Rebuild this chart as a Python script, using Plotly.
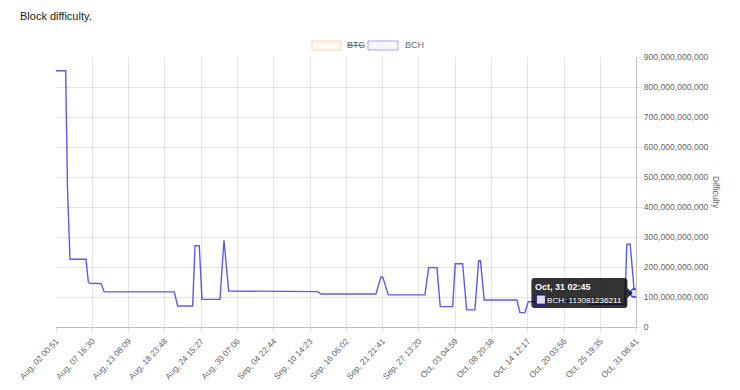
import plotly.graph_objects as go

# ---- data ----
times = [
    "2017-08-02 00:51", "2017-08-03 13:03", "2017-08-03 19:51", "2017-08-04 05:09",
    "2017-08-06 16:57", "2017-08-07 01:33", "2017-08-07 07:51", "2017-08-09 01:03",
    "2017-08-09 13:21", "2017-08-20 10:57", "2017-08-20 23:39", "2017-08-23 07:45",
    "2017-08-23 16:15", "2017-08-24 08:21", "2017-08-24 18:27", "2017-08-27 13:45",
    "2017-08-28 04:39", "2017-08-28 22:15", "2017-09-11 18:51", "2017-09-12 07:09",
    "2017-09-20 20:39", "2017-09-21 15:21", "2017-09-21 22:51", "2017-09-22 18:39",
    "2017-09-28 11:51", "2017-09-29 01:39", "2017-09-30 08:39", "2017-09-30 20:57",
    "2017-10-02 19:21", "2017-10-03 05:03", "2017-10-04 08:39", "2017-10-04 23:39",
    "2017-10-06 06:39", "2017-10-06 20:27", "2017-10-07 03:15", "2017-10-07 17:27",
    "2017-10-12 19:39", "2017-10-13 06:51", "2017-10-14 01:33", "2017-10-14 13:51",
    "2017-10-23 20:51", "2017-10-24 04:27", "2017-10-29 14:51", "2017-10-29 22:27",
    "2017-10-30 10:51", "2017-10-30 23:51", "2017-10-31 02:45", "2017-10-31 08:41",
]
bch_difficulty = [
    854e9, 854e9, 460e9, 226e9,
    226e9, 151e9, 146e9, 145e9,
    117e9, 117e9, 70e9, 70e9,
    271e9, 271e9, 92e9, 92e9,
    289e9, 120e9, 118e9, 110e9,
    110e9, 167e9, 165e9, 107e9,
    107e9, 198e9, 198e9, 68e9,
    68e9, 211e9, 211e9, 57e9,
    57e9, 221e9, 221e9, 90e9,
    90e9, 48e9, 48e9, 84e9,
    84e9, 76e9, 76e9, 276e9,
    276e9, 116e9, 113081236211, 113.08e9,
]

tick_times = [
    "2017-08-02 00:51", "2017-08-07 16:30", "2017-08-13 08:09", "2017-08-18 23:48",
    "2017-08-24 15:27", "2017-08-30 07:06", "2017-09-04 22:44", "2017-09-10 14:23",
    "2017-09-16 06:02", "2017-09-21 21:41", "2017-09-27 13:20", "2017-10-03 04:59",
    "2017-10-08 20:38", "2017-10-14 12:17", "2017-10-20 03:56", "2017-10-25 19:35",
    "2017-10-31 08:41",
]
tick_labels = [
    "Aug, 02 00:51", "Aug, 07 16:30", "Aug, 13 08:09", "Aug, 18 23:48",
    "Aug, 24 15:27", "Aug, 30 07:06", "Sep, 04 22:44", "Sep, 10 14:23",
    "Sep, 16 06:02", "Sep, 21 21:41", "Sep, 27 13:20", "Oct, 03 04:59",
    "Oct, 08 20:38", "Oct, 14 12:17", "Oct, 20 03:56", "Oct, 25 19:35",
    "Oct, 31 08:41",
]

hover_time = "2017-10-31 02:45"
hover_label = "Oct, 31 02:45"
hover_value = 113081236211

FONT = "Liberation Sans, Arial, Helvetica, sans-serif"
GRID = "rgba(0,0,0,0.1)"
LINE_BLUE = "rgba(0,0,255,0.65)"

fig = go.Figure()
fig.add_trace(go.Scatter(
    x=times, y=bch_difficulty, mode="lines", name="BCH",
    line=dict(color=LINE_BLUE, width=1.4), hoverinfo="skip", showlegend=False,
))
fig.add_trace(go.Scatter(
    x=[hover_time], y=[hover_value], mode="markers", showlegend=False, hoverinfo="skip",
    marker=dict(size=8, color="rgba(225,225,255,1)", line=dict(color="rgba(0,0,255,0.8)", width=1.5)),
))

shapes = []
annotations = []

# tooltip box (pixel offsets relative to hovered point)
path = ("M -100,15 L -10,15 Q -7,15 -7,12 L -7,5 L -2,0 L -7,-5 L -7,-12 "
        "Q -7,-15 -10,-15 L -100,-15 Q -103,-15 -103,-12 L -103,12 Q -103,15 -100,15 Z")
shapes.append(dict(type="path", xref="x", yref="y", xsizemode="pixel", ysizemode="pixel",
                   xanchor=hover_time, yanchor=hover_value, path=path,
                   fillcolor="rgba(0,0,0,0.8)", line=dict(width=0), layer="above"))
shapes.append(dict(type="rect", xref="x", yref="y", xsizemode="pixel", ysizemode="pixel",
                   xanchor=hover_time, yanchor=hover_value, x0=-98, x1=-89, y0=-2, y1=-11,
                   fillcolor="rgb(222,222,232)", line=dict(color="rgba(0,0,255,0.8)", width=1),
                   layer="above"))
annotations.append(dict(x=hover_time, y=hover_value, xref="x", yref="y", showarrow=False,
                        text="<b>" + hover_label + "</b>", xanchor="left", yanchor="middle",
                        xshift=-100, yshift=6, borderpad=0,
                        font=dict(family=FONT, size=9, color="white")))
annotations.append(dict(x=hover_time, y=hover_value, xref="x", yref="y", showarrow=False,
                        text="BCH: " + str(hover_value), xanchor="left", yanchor="middle",
                        xshift=-88, yshift=-7, borderpad=0,
                        font=dict(family=FONT, size=8.1, color="white")))

# legend (manual, Chart.js style)
shapes.append(dict(type="rect", xref="paper", yref="paper", x0=0.4414, x1=0.4914,
                   y0=1.0259, y1=1.0593, fillcolor="rgba(255,159,64,0.05)",
                   line=dict(color="rgba(255,159,64,0.45)", width=1)))
shapes.append(dict(type="rect", xref="paper", yref="paper", x0=0.5379, x1=0.5897,
                   y0=1.0259, y1=1.0593, fillcolor="rgba(0,0,255,0.03)",
                   line=dict(color="rgba(0,0,255,0.35)", width=1)))
annotations.append(dict(x=0.4983, y=1.0426, xref="paper", yref="paper", showarrow=False,
                        text="<s>BTC</s>", xanchor="left", yanchor="middle",
                        font=dict(family=FONT, size=9, color="#666")))
annotations.append(dict(x=0.5983, y=1.0426, xref="paper", yref="paper", showarrow=False,
                        text="BCH", xanchor="left", yanchor="middle",
                        font=dict(family=FONT, size=9, color="#666")))

# y axis title on the right (reads top-to-bottom)
annotations.append(dict(x=1.138, y=0.5, xref="paper", yref="paper", showarrow=False,
                        text="Difficulty", textangle=90, xanchor="center", yanchor="middle",
                        font=dict(family=FONT, size=8.6, color="#666")))

fig.update_layout(
    width=740, height=390,
    margin=dict(l=56, r=104, t=57, b=63, autoexpand=False),
    paper_bgcolor="white", plot_bgcolor="white",
    font=dict(family=FONT, size=9, color="#666"),
    title=dict(text="Block difficulty.", x=20 / 740, xanchor="left", xref="container",
               y=1 - 16 / 390, yanchor="middle", yref="container",
               font=dict(family=FONT, size=11, color="#222")),
    showlegend=False,
    shapes=shapes, annotations=annotations,
    xaxis=dict(
        type="date", range=[tick_times[0], tick_times[-1]],
        tickmode="array", tickvals=tick_times, ticktext=tick_labels,
        tickangle=-47, tickfont=dict(family=FONT, size=8.4, color="#666"),
        showgrid=True, gridcolor=GRID, gridwidth=1,
        ticks="outside", ticklen=5, tickcolor=GRID,
        showline=True, linecolor="rgba(0,0,0,0.25)", linewidth=1,
        zeroline=False, automargin=False, fixedrange=True,
    ),
    yaxis=dict(
        side="right", range=[0, 900e9], dtick=100e9, tick0=0, tickformat=",",
        tickfont=dict(family=FONT, size=8.6, color="#666"),
        showgrid=True, gridcolor=GRID, gridwidth=1,
        ticks="outside", ticklen=5, tickcolor=GRID,
        showline=True, linecolor="rgba(0,0,0,0.25)", linewidth=1,
        zeroline=False, automargin=False, fixedrange=True,
    ),
)

fig.write_html("out.html")
